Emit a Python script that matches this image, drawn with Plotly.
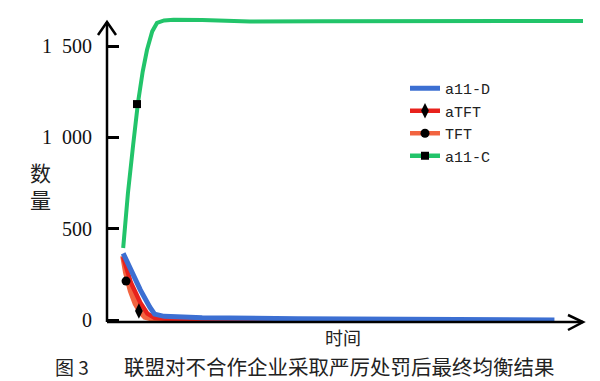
import plotly.graph_objects as go

# ---- data ----
t_allD = [3.4, 5, 7, 9, 10, 12, 20, 40, 60, 80, 94]
v_allD = [365, 270, 165, 70, 32, 20, 13, 7, 4, 2, 0]

t_aTFT = [3.4, 5, 7, 8.5, 10, 13, 20, 40]
v_aTFT = [345, 205, 95, 35, 12, 5, 2, 0]

t_TFT = [3.4, 4, 5, 6, 7, 8, 10, 14]
v_TFT = [350, 260, 160, 90, 45, 18, 4, 0]

t_allC = [3.4, 4.4, 5.5, 6.5, 7.5, 8.4, 9.5, 10.5, 12, 14, 20, 30, 45, 60, 80, 100]
v_allC = [394, 695, 960, 1188, 1360, 1478, 1580, 1626, 1640, 1644, 1642, 1634, 1636, 1636, 1637, 1637]

# single marker points for each series
mk_aTFT = (6.7, 49)
mk_TFT = (4.0, 213)
mk_allC = (6.3, 1182)

tick_vals = [0, 500, 1000, 1500]
tick_text = ["0", "500", "1\u2002000", "1\u2002500"]

# ---- layout geometry (pixels) ----
W, H = 600, 381
L, R, T, B = 107, 583, 10, 322


def px(x):
    return (x - L) / (R - L)


def py(y):
    return (B - y) / (B - T)


C_D = "#3c6fd2"
C_A = "#e8221c"
C_T = "#f26440"
C_C = "#22c46a"

fig = go.Figure()
fig.add_trace(go.Scatter(x=t_allC, y=v_allC, mode="lines", line=dict(color=C_C, width=4),
                         showlegend=False))
fig.add_trace(go.Scatter(x=t_TFT, y=v_TFT, mode="lines", line=dict(color=C_T, width=6),
                         showlegend=False))
fig.add_trace(go.Scatter(x=t_aTFT, y=v_aTFT, mode="lines", line=dict(color=C_A, width=4.5),
                         showlegend=False))
fig.add_trace(go.Scatter(x=t_allD, y=v_allD, mode="lines", line=dict(color=C_D, width=5),
                         name="a11-D", legendrank=1))
fig.add_trace(go.Scatter(x=[mk_aTFT[0]], y=[mk_aTFT[1]], mode="lines+markers", name="aTFT",
                         line=dict(color=C_A, width=4.5),
                         marker=dict(symbol="diamond-tall", size=11, color="black"), legendrank=2))
fig.add_trace(go.Scatter(x=[mk_TFT[0]], y=[mk_TFT[1]], mode="lines+markers", name="TFT",
                         line=dict(color=C_T, width=4.5),
                         marker=dict(symbol="circle", size=9, color="black"), legendrank=3))
fig.add_trace(go.Scatter(x=[mk_allC[0]], y=[mk_allC[1]], mode="lines+markers", name="a11-C",
                         line=dict(color=C_C, width=4.5),
                         marker=dict(symbol="square", size=8, color="black"), legendrank=4))

ymin = (B - 320) * -1500 / 274
ymax = (320 - T) * 1500 / 274

shapes = []
lw = 2.5
# axes lines
shapes.append(dict(type="line", xref="paper", yref="paper", x0=px(107), y0=py(322), x1=px(107), y1=py(22),
                   line=dict(color="black", width=lw)))
shapes.append(dict(type="line", xref="paper", yref="paper", x0=px(107), y0=py(322), x1=px(583), y1=py(322),
                   line=dict(color="black", width=lw)))
# arrow heads
shapes.append(dict(type="path", xref="paper", yref="paper",
                   path=f"M {px(98)},{py(35)} L {px(107)},{py(22)} L {px(116)},{py(35)}",
                   line=dict(color="black", width=lw)))
shapes.append(dict(type="path", xref="paper", yref="paper",
                   path=f"M {px(568)},{py(315)} L {px(583)},{py(322)} L {px(568)},{py(330)}",
                   line=dict(color="black", width=lw)))

cjk = "Noto Sans CJK SC"
annotations = [
    dict(text="数<br>量", x=px(40), y=py(185), xref="paper", yref="paper", showarrow=False,
         xanchor="center", yanchor="middle",
         font=dict(family=cjk, size=21, color="#222"), align="center"),
    dict(text="时间", x=px(343), y=py(336.5), xref="paper", yref="paper", showarrow=False,
         xanchor="center", yanchor="middle",
         font=dict(family=cjk, size=18, color="#222")),
    dict(text="图 3", x=px(72), y=py(366), xref="paper", yref="paper", showarrow=False,
         xanchor="center", yanchor="middle",
         font=dict(family=cjk, size=19, color="#222")),
    dict(text="联盟对不合作企业采取严厉处罚后最终均衡结果", x=px(339), y=py(366), xref="paper", yref="paper",
         showarrow=False, xanchor="center", yanchor="middle",
         font=dict(family=cjk, size=20.5, color="#222")),
]

fig.update_layout(
    width=W, height=H,
    margin=dict(l=L, r=W - R, t=T, b=H - B),
    paper_bgcolor="white", plot_bgcolor="white",
    shapes=shapes, annotations=annotations,
    xaxis=dict(range=[0, 100], showgrid=False, zeroline=False, showline=False,
               showticklabels=False, ticks=""),
    yaxis=dict(range=[ymin, ymax], showgrid=False, zeroline=False, showline=False,
               tickvals=tick_vals, ticktext=tick_text, ticks="inside", ticklen=12, tickwidth=3,
               tickcolor="black", ticklabelstandoff=14,
               tickfont=dict(family="Liberation Serif", size=20, color="#111")),
    legend=dict(x=px(405), y=py(72), xanchor="left", yanchor="top", bgcolor="rgba(0,0,0,0)",
                font=dict(family="Liberation Mono", size=15, color="#222"), itemwidth=30,
                tracegroupgap=0),
    showlegend=True,
)

fig.write_html("out.html")
